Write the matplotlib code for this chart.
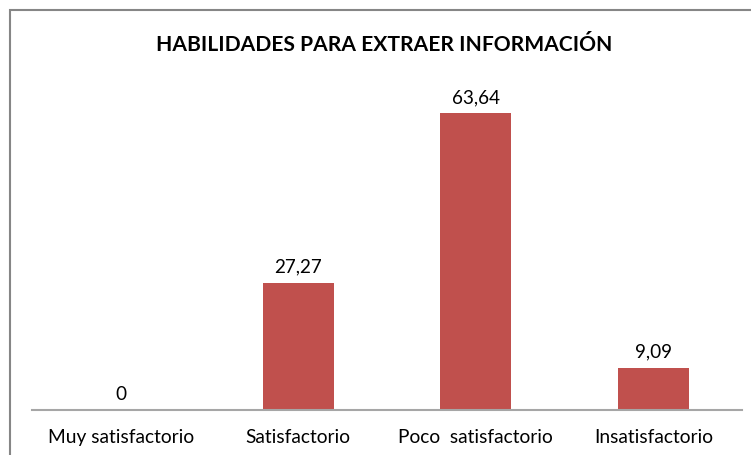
import matplotlib
matplotlib.use("Agg")
import matplotlib.pyplot as plt
from matplotlib.patches import Rectangle

categories = ["Muy satisfactorio", "Satisfactorio", "Poco  satisfactorio", "Insatisfactorio"]
values = [0, 27.27, 63.64, 9.09]
value_labels = ["0", "27,27", "63,64", "9,09"]
title = "HABILIDADES PARA EXTRAER INFORMACIÓN"

plt.rcParams['font.family'] = ['Lato', 'DejaVu Sans']

W, H = 751, 456
fig = plt.figure(figsize=(W/100, H/100), dpi=100)
fig.patch.set_facecolor("white")

# outer chart border (cropped on right/bottom)
fig.add_artist(Rectangle((9.5/W, -0.05), 1.2, (H-10.5)/H + 0.05, transform=fig.transFigure,
                         fill=False, edgecolor="#868686", linewidth=1.5))

ytop = 70
ax_left, ax_right, ax_bottom_px = 32, 742, 411
px_per_unit = 297/63.64
top_px = ax_bottom_px - ytop*px_per_unit
ax = fig.add_axes([ax_left/W, (H-ax_bottom_px)/H, (ax_right-ax_left)/W, (ax_bottom_px-top_px)/H])
ax.set_xlim(-0.5, len(categories)-0.5)
ax.set_ylim(0, ytop)
x = range(len(categories))
ax.bar(x, values, width=0.4, color="#C0504D")
for xi, v, lab in zip(x, values, value_labels):
    ax.annotate(lab, (xi, v), xytext=(0, 8), textcoords="offset pixels",
                ha="center", va="bottom", fontsize=13.6, color="#000000")
ax.set_xticks(list(x))
ax.set_xticklabels(categories, fontsize=13.8, color="#000000")
ax.tick_params(axis="x", length=0, pad=13)
ax.set_yticks([])
for s in ["top", "right", "left"]:
    ax.spines[s].set_visible(False)
ax.spines["bottom"].set_color("#A6A6A6")
ax.spines["bottom"].set_linewidth(1.5)
ax.patch.set_alpha(0)

fig.text(384/W, 1-45/H, title, ha="center", va="center", fontsize=15.1, fontweight="bold", color="#000000")

fig.savefig("out.png", dpi=100)
